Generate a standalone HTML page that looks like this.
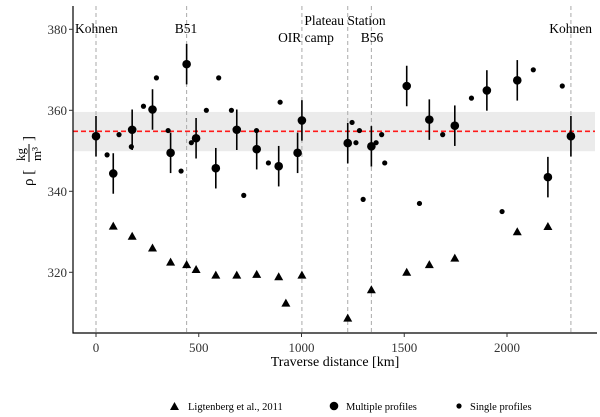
<!DOCTYPE html>
<html><head><meta charset="utf-8"><style>
body{margin:0;background:#fff}
svg{display:block;font-family:"Liberation Serif",serif}
</style></head><body>
<svg id="chart" width="600" height="417" viewBox="0 0 600 417">
<g id="plot"></g>
</svg>
<script>
const multiKm=[0,84,176,275,363,441,487,583,685,782,889,981,1002,1225,1340,1512,1622,1746,1902,2050,2199,2311];
const multiRho=[353.6,344.4,355.2,360.2,349.5,371.4,353.1,345.7,355.2,350.4,346.2,349.5,357.5,351.9,351.1,366,357.7,356.2,364.9,367.4,343.5,353.6];
const multiErr=[5,5,5,5,5,5,5,5,5,5,5,5,5,5,5,5,5,5,5,5,5,5];
const singleKm=[54,112,172,231,294,351,414,464,537,597,659,719,781,839,896,1246,1265,1282,1300,1363,1390,1405,1574,1687,1827,1976,2128,2269];
const singleRho=[349,354,351,361,368,355,345,352,360,368,360,339,355,347,362,357,352,355,338,352,354,347,337,354,363,335,370,366];
const ligKm=[84,176,275,363,441,487,583,685,782,889,924,1002,1225,1340,1512,1622,1746,2050,2199];
const ligRho=[331.4,328.9,326,322.5,321.9,320.7,319.3,319.3,319.5,318.9,312.4,319.3,308.7,315.7,320,321.9,323.5,330,331.3];
const siteKm=[0,441,1002,1225,1340,2311];
const xTicks=[0,500,1000,1500,2000];
const yTicks=[320,340,360,380];
const meanRho=354.8, bandLo=349.9, bandHi=359.6;

const X=v=>96+v*0.2055;
const Y=v=>29.3+(380-v)*4.05;
const NS="http://www.w3.org/2000/svg";
const svg=document.getElementById('chart');
function mk(tag,attrs,parent,text){const e=document.createElementNS(NS,tag);for(const k in attrs)e.setAttribute(k,attrs[k]);if(text!==undefined)e.textContent=text;(parent||svg).appendChild(e);return e;}

let e;
e=mk('rect',{x:73,y:Y(bandHi),width:522,height:Y(bandLo)-Y(bandHi),fill:'#ebebeb'});


siteKm.forEach(k=>{e=mk('line',{x1:X(k),x2:X(k),y1:6,y2:333,stroke:'#aaa','stroke-dasharray':'4,3','stroke-width':1});

});
e=mk('line',{x1:73,x2:595,y1:Y(meanRho),y2:Y(meanRho),stroke:'#ff1a1a','stroke-dasharray':'5,3','stroke-width':1.6});



const labels=[["Kohnen",75,33,"start"],["B51",186,33,"middle"],["Plateau Station",345,25,"middle"],["OIR camp",306,42,"middle"],["B56",372,42,"middle"],["Kohnen",592,33,"end"]];
labels.forEach(l=>{e=mk('text',{x:l[1],y:l[2],'text-anchor':l[3],'font-size':13.5},svg,l[0]);

});

ligKm.forEach((k,i)=>{const x=X(k),y=Y(ligRho[i]);e=mk('polygon',{points:`${x-4.5},${y+3.5} ${x+4.5},${y+3.5} ${x},${y-4.5}`,fill:'#000'});

});
singleKm.forEach((k,i)=>{e=mk('circle',{cx:X(k),cy:Y(singleRho[i]),r:2.6,fill:'#000'});

});
multiKm.forEach((k,i)=>{e=mk('line',{x1:X(k),x2:X(k),y1:Y(multiRho[i]+multiErr[i]),y2:Y(multiRho[i]-multiErr[i]),stroke:'#000','stroke-width':1.6});


e=mk('circle',{cx:X(k),cy:Y(multiRho[i]),r:4.3,fill:'#000'});

});

e=mk('line',{x1:73,x2:73,y1:6,y2:333.5,stroke:'#000','stroke-width':1.2});


e=mk('line',{x1:72.5,x2:597,y1:333,y2:333,stroke:'#000','stroke-width':1.2});


xTicks.forEach(t=>{mk('line',{x1:X(t),x2:X(t),y1:333,y2:337,stroke:'#333'});
e=mk('text',{x:X(t),y:352,'text-anchor':'middle','font-size':13,fill:'#333'},svg,t);

});
yTicks.forEach(t=>{mk('line',{x1:69,x2:73,y1:Y(t),y2:Y(t),stroke:'#333'});
e=mk('text',{x:67,y:Y(t)+4.5,'text-anchor':'end','font-size':13,fill:'#333'},svg,t);

});

e=mk('text',{x:335,y:366,'text-anchor':'middle','font-size':14},svg,'Traverse distance [km]');


const yt=mk('g',{transform:'translate(26,162) rotate(-90)'});


mk('text',{x:-24,y:7,'font-size':15},yt,'ρ [');
mk('text',{x:1,y:-1,'font-size':13},yt,'kg');
mk('line',{x1:0,x2:18,y1:3,y2:3,stroke:'#000'},yt);
mk('text',{x:1,y:15,'font-size':13},yt,'m³');
mk('text',{x:21,y:7,'font-size':15},yt,']');

const lg=mk('g',{});


mk('polygon',{points:'170,410 179,410 174.5,402',fill:'#000'},lg);
e=mk('text',{x:188,y:410,'font-size':10.5},lg,'Ligtenberg et al., 2011');


mk('circle',{cx:334,cy:406,r:4.3,fill:'#000'},lg);
e=mk('text',{x:346,y:410,'font-size':10.5},lg,'Multiple profiles');


mk('circle',{cx:459,cy:406,r:2.6,fill:'#000'},lg);
e=mk('text',{x:470,y:410,'font-size':10.5},lg,'Single profiles');


</script>
</body></html>
